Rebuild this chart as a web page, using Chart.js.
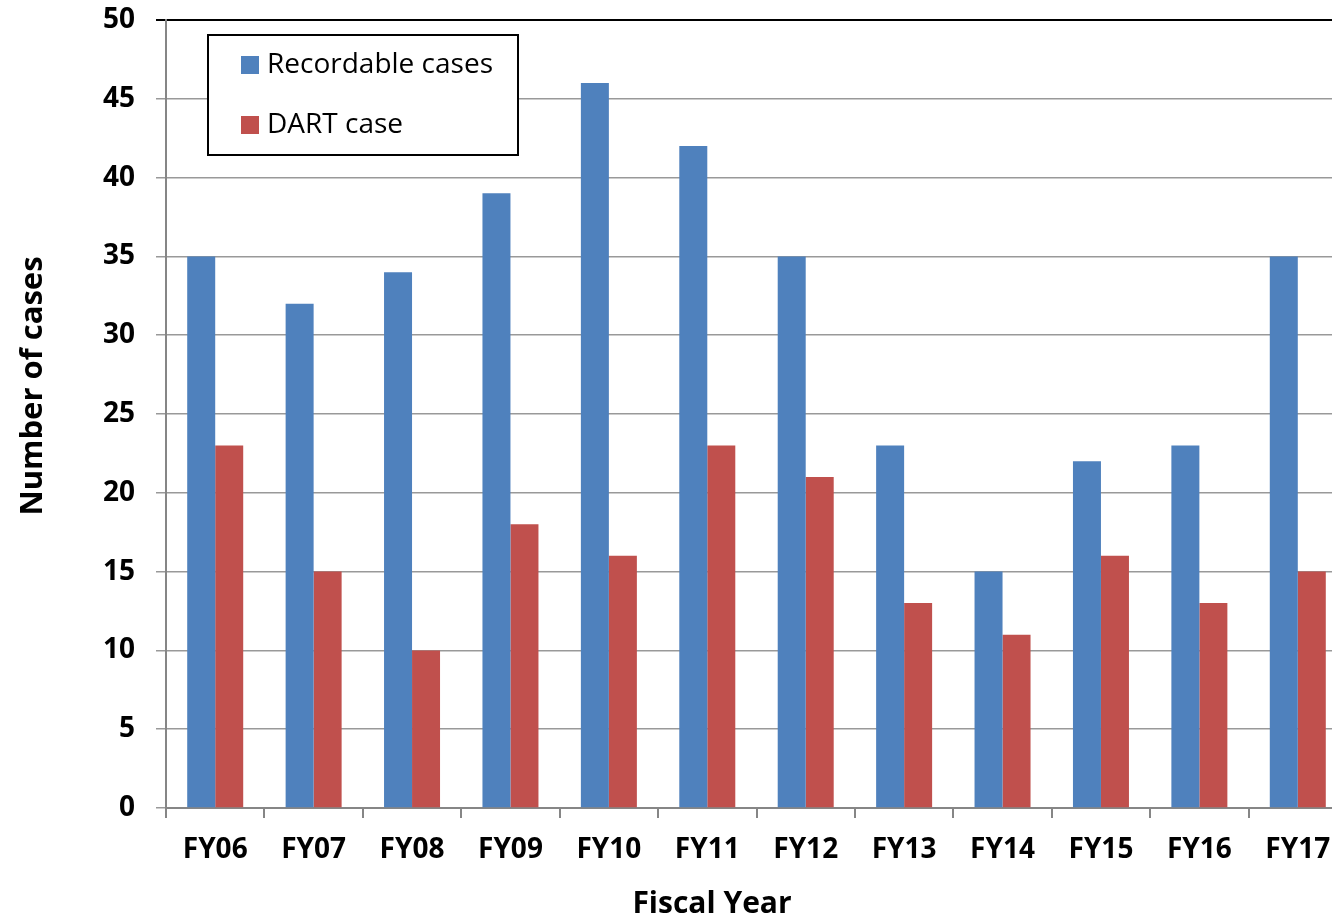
<!DOCTYPE html>
<html>
<head>
<meta charset="utf-8">
<script src="https://cdn.jsdelivr.net/npm/chart.js@4/dist/chart.umd.min.js"></script>
<style>
html,body{margin:0;padding:0;background:#fff;overflow:hidden;}
#wrap{position:absolute;left:0;top:0;width:1360px;height:920px;}
</style>
</head>
<body>
<div id="wrap"><canvas id="c" width="1360" height="920"></canvas></div>
<script>
const categories = ['FY06','FY07','FY08','FY09','FY10','FY11','FY12','FY13','FY14','FY15','FY16','FY17'];
const recordable = [35, 32, 34, 39, 46, 42, 35, 23, 15, 22, 23, 35];
const dart = [23, 15, 10, 18, 16, 23, 21, 13, 11, 16, 13, 15];
const seriesNames = ['Recordable cases', 'DART case'];
const xTitle = 'Fiscal Year';
const yTitle = 'Number of cases';

const FONT = "'Open Sans', sans-serif";

const extras = {
  id: 'extras',
  afterDraw(chart) {
    const ctx = chart.ctx;
    ctx.save();
    // axis titles
    ctx.fillStyle = '#000';
    ctx.font = "bold 30px " + FONT;
    ctx.textAlign = 'center';
    ctx.textBaseline = 'middle';
    ctx.fillText(xTitle, 712, 904);
    ctx.save();
    ctx.translate(33, 386);
    ctx.rotate(-Math.PI / 2);
    ctx.font = "bold 31px " + FONT;
    ctx.fillText(yTitle, 0, 0);
    ctx.restore();
    // legend box
    ctx.fillStyle = '#fff';
    ctx.fillRect(208, 35, 310, 120);
    ctx.strokeStyle = '#000';
    ctx.lineWidth = 2;
    ctx.strokeRect(208, 35, 310, 120);
    ctx.font = "28px " + FONT;
    ctx.textAlign = 'left';
    chart.data.datasets.forEach((ds, i) => {
      const y = 65 + i * 60;
      ctx.fillStyle = ds.backgroundColor;
      ctx.fillRect(241, y - 9, 18, 18);
      ctx.fillStyle = '#000';
      ctx.fillText(ds.label, 267, y);
    });
    ctx.restore();
  }
};

new Chart(document.getElementById('c'), {
  type: 'bar',
  data: {
    labels: categories,
    datasets: [
      { label: seriesNames[0], data: recordable, backgroundColor: '#4F81BD' },
      { label: seriesNames[1], data: dart, backgroundColor: '#C0504D' }
    ]
  },
  options: {
    responsive: false,
    animation: false,
    devicePixelRatio: 1,
    layout: { padding: { left: 0, top: 20, right: 13, bottom: 0 } },
    datasets: { bar: { categoryPercentage: 0.569, barPercentage: 1.0 } },
    plugins: { legend: { display: false }, tooltip: { enabled: false } },
    scales: {
      x: {
        afterFit(s) { s.height = 112; s.paddingLeft = 0; s.paddingRight = 0; },
        grid: { display: true, drawOnChartArea: false, drawTicks: true, tickLength: 10, color: '#868686', lineWidth: 2, offset: true },
        border: { display: true, color: '#868686', width: 2 },
        ticks: { color: '#000', font: { family: FONT, size: 28, weight: 'bold' }, padding: 15, maxRotation: 0, autoSkip: false }
      },
      y: {
        min: 0, max: 50,
        afterFit(s) { s.width = 166; s.paddingTop = 0; s.paddingBottom = 0; },
        grid: {
          color: (c) => (c.tick && c.tick.value === 50) ? '#000' : '#999',
          lineWidth: (c) => (c.tick && c.tick.value === 50) ? 2 : 1.5,
          tickLength: 10, drawTicks: true
        },
        border: { display: true, color: '#868686', width: 2 },
        ticks: { stepSize: 5, color: '#000', font: { family: FONT, size: 28, weight: 'bold' }, padding: 21 }
      }
    }
  },
  plugins: [extras]
});
</script>
</body>
</html>
